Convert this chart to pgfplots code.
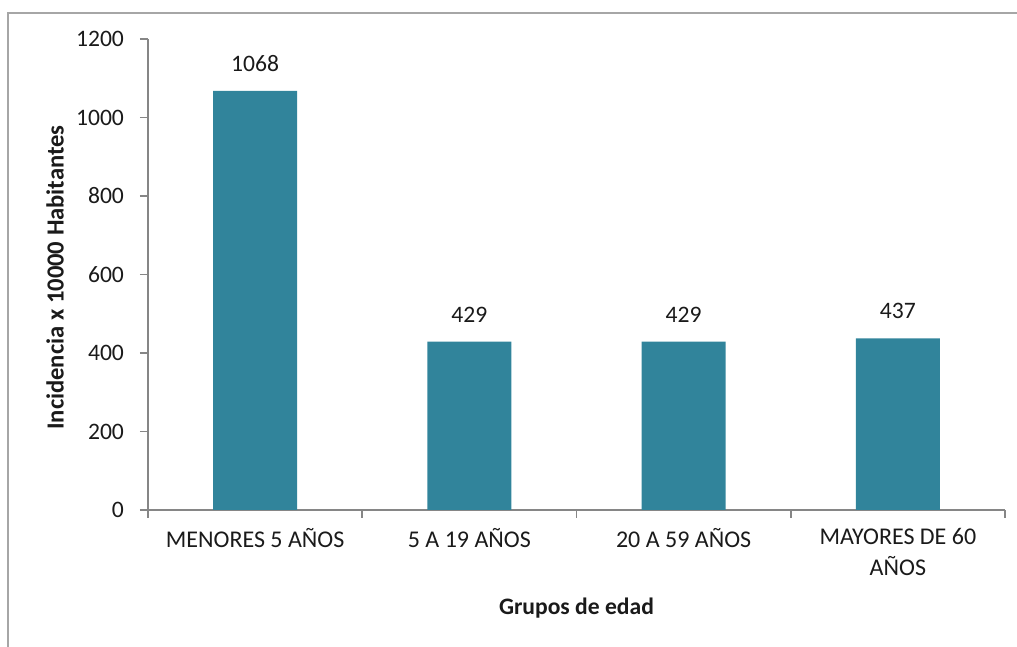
\documentclass[border=0pt]{standalone}
\usepackage{fontspec}
\setmainfont{Carlito}
\usepackage{pgfplots}
\pgfplotsset{compat=1.18}
\definecolor{barteal}{HTML}{31849B}
\definecolor{axisgray}{HTML}{868686}
\definecolor{framegray}{HTML}{A6A6A6}
\definecolor{labeltext}{HTML}{1A1A1A}

\begin{document}
\begin{tikzpicture}
\useasboundingbox (0,0) rectangle (508.5pt,323.5pt);
% chart area frame
\draw[framegray, line width=1pt] (4pt,0) -- (4pt,317pt) -- (509pt,317pt);
\begin{axis}[
  at={(74pt,68.5pt)}, anchor=south west,
  width=428.5pt, height=235.5pt, scale only axis,
  xmin=-0.5, xmax=3.5, ymin=0, ymax=1200,
  axis x line*=bottom, axis y line*=left,
  axis line style={axisgray, line width=0.8pt, -},
  ybar, bar width=42pt,
  xtick={0,1,2,3},
  xticklabels={MENORES 5 AÑOS, 5 A 19 AÑOS, 20 A 59 AÑOS, {MAYORES DE 60\\AÑOS}},
  xticklabel style={align=center, font=\fontsize{12}{15.5}\selectfont, text=labeltext, yshift=-1.5pt},
  major x tick style={draw=none},
  minor xtick={-0.5,0.5,1.5,2.5,3.5},
  minor x tick style={axisgray, line width=0.8pt},
  minor tick length=4pt,
  ytick={0,200,...,1200},
  ytick style={axisgray, line width=0.8pt},
  major tick length=4pt,
  tick align=outside,
  yticklabel style={font=\fontsize{11.8}{14}\selectfont, text=labeltext, xshift=-4.5pt},
  /pgf/number format/assume math mode=true,
  /pgf/number format/1000 sep={},
  ylabel={Incidencia x 10000 Habitantes},
  every axis y label/.style={at={(rel axis cs:0,0.5)}, rotate=90, anchor=center,
    yshift=46.5pt, xshift=-1.5pt, font=\bfseries\fontsize{12.3}{14}\selectfont, text=labeltext},
  xlabel={Grupos de edad},
  every axis x label/.style={at={(rel axis cs:0.5,0)}, anchor=center,
    yshift=-49pt, font=\bfseries\fontsize{11.8}{14}\selectfont, text=labeltext},
  nodes near coords,
  every node near coord/.append style={font=\fontsize{11.8}{14}\selectfont, text=labeltext, inner sep=0pt, yshift=9.5pt},
  clip=false,
]
\addplot[fill=barteal, draw=none] coordinates {(0,1068) (1,429) (2,429) (3,437)};
\end{axis}
\end{tikzpicture}
\end{document}
